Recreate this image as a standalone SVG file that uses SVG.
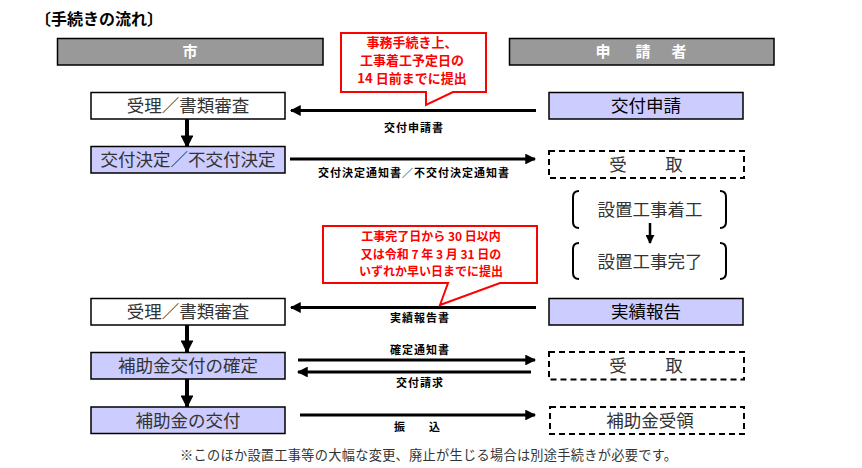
<svg xmlns="http://www.w3.org/2000/svg" width="862" height="468" viewBox="0 0 862 468">
<defs>
<marker id="ah" viewBox="0 0 10 10" refX="9" refY="5" markerWidth="3.6" markerHeight="3.6" orient="auto" markerUnits="strokeWidth">
<path d="M0,0 L10,5 L0,10 z" fill="#000"/>
</marker>
<marker id="ahv" viewBox="0 0 10 10" refX="9" refY="5" markerWidth="3.2" markerHeight="3.2" orient="auto" markerUnits="strokeWidth">
<path d="M0,0 L10,5 L0,10 z" fill="#000"/>
</marker>
</defs>
<style>
.t{font-family:"Noto Sans CJK JP","Liberation Sans",sans-serif}
.box{stroke:#000;stroke-width:1.5}
.w{fill:#fff}
.lav{fill:#ccccff}
.hdr{fill:#999999;stroke:#000;stroke-width:1.5}
.dash{fill:#fff;stroke:#000;stroke-width:2;stroke-dasharray:6 4}
.bt{font-size:17.5px;fill:#333;text-anchor:middle}
.bs{font-size:17.5px;fill:#000;text-anchor:middle}
.ht{font-size:15px;font-weight:bold;fill:#fff;text-anchor:middle}
.lab{font-size:11px;font-weight:bold;fill:#000;text-anchor:middle;letter-spacing:1px}
.call{fill:#fff;stroke:#ff0000;stroke-width:2}
.ct{font-size:13px;font-weight:bold;fill:#ff0000;text-anchor:middle}
.ct2{font-size:12px}
.cn{stroke:#000;stroke-width:3;fill:none}
.vn{stroke:#000;stroke-width:4;fill:none}
.br{stroke:#000;stroke-width:2;fill:none}
</style>
<rect width="862" height="468" fill="#fff"/>
<text class="t" x="35" y="25" font-size="16" font-weight="bold">〔手続きの流れ〕</text>

<g id="hdr-city"><rect class="hdr" x="57.5" y="38.5" width="265.5" height="26.5"/><text class="t ht" x="190" y="57">市</text></g>
<g id="hdr-app"><rect class="hdr" x="509.5" y="38.5" width="264.5" height="26.5"/><text class="t ht" x="603 643 679" y="57">申請者</text></g>

<g id="connectors">
<line class="cn" x1="536" y1="110.5" x2="291" y2="110.5" marker-end="url(#ah)"/>
<line class="cn" x1="290" y1="159" x2="535" y2="159" marker-end="url(#ah)"/>
<line class="cn" x1="536" y1="307.5" x2="291" y2="307.5" marker-end="url(#ah)"/>
<line class="cn" x1="298" y1="360" x2="535" y2="360" marker-end="url(#ah)"/>
<line class="cn" x1="531" y1="372" x2="298" y2="372" marker-end="url(#ah)"/>
<line class="cn" x1="300" y1="415" x2="535" y2="415" marker-end="url(#ah)"/>
<line class="vn" x1="187" y1="119" x2="187" y2="147" marker-end="url(#ahv)"/>
<line class="vn" x1="187" y1="325" x2="187" y2="352" marker-end="url(#ahv)"/>
<line class="vn" x1="187" y1="379" x2="187" y2="407" marker-end="url(#ahv)"/>
<line x1="650" y1="223" x2="650" y2="243" stroke="#000" stroke-width="2.5" marker-end="url(#ah)"/>
<text class="t lab" x="414" y="132">交付申請書</text>
<text class="t lab" x="414" y="177">交付決定通知書／不交付決定通知書</text>
<text class="t lab" x="420" y="322">実績報告書</text>
<text class="t lab" x="420" y="354">確定通知書</text>
<text class="t lab" x="420" y="387">交付請求</text>
<text class="t lab" x="400 435" y="431">振込</text>
</g>

<g id="callout1">
<path class="call" d="M341,33 H486 V92 H453 L426,105 L426,92 H341 Z"/>
<text class="t ct" x="412" y="47">事務手続き上、</text>
<text class="t ct" x="412" y="65">工事着工予定日の</text>
<text class="t ct" x="412" y="83">14 日前までに提出</text>
</g>

<g id="callout2">
<path class="call" d="M323,226 H537 V283 H500 L440,305 L448,283 H323 Z"/>
<text class="t ct ct2" x="431" y="241">工事完了日から 30 日以内</text>
<text class="t ct ct2" x="431" y="258.5">又は令和 7 年 3 月 31 日の</text>
<text class="t ct ct2" x="431" y="276">いずれか早い日までに提出</text>
</g>

<g id="n-juri1"><rect class="box w" x="91" y="92.5" width="194" height="26.5"/><text class="t bt" x="188" y="112">受理／書類審査</text></g>
<g id="n-shinsei"><rect class="box lav" x="549" y="92.5" width="194" height="26.5"/><text class="t bs" x="646" y="112">交付申請</text></g>
<g id="n-kettei"><rect class="box lav" x="91" y="146.5" width="194" height="26.5"/><text class="t bt" x="188" y="166" font-size="16">交付決定／不交付決定</text></g>
<g id="n-uketori1"><rect class="dash" x="549" y="151" width="195" height="27"/><text class="t bt" x="618 674" y="171">受取</text></g>
<g id="n-chakko">
<path class="br" d="M579,191 Q573,191 573,197 V222 Q573,228 579,228"/>
<path class="br" d="M720,191 Q726,191 726,197 V222 Q726,228 720,228"/>
<text class="t bt" x="650" y="216">設置工事着工</text>
</g>
<g id="n-kanryo">
<path class="br" d="M579,243 Q573,243 573,249 V273 Q573,279 579,279"/>
<path class="br" d="M720,243 Q726,243 726,249 V273 Q726,279 720,279"/>
<text class="t bt" x="650" y="268">設置工事完了</text>
</g>
<g id="n-juri2"><rect class="box w" x="91" y="298.5" width="194" height="26.5"/><text class="t bt" x="188" y="318">受理／書類審査</text></g>
<g id="n-jisseki"><rect class="box lav" x="549" y="298.5" width="194" height="26.5"/><text class="t bs" x="646" y="318">実績報告</text></g>
<g id="n-kakutei"><rect class="box lav" x="91" y="352.5" width="194" height="26.5"/><text class="t bt" x="188" y="372">補助金交付の確定</text></g>
<g id="n-uketori2"><rect class="dash" x="549" y="352" width="195" height="27.5"/><text class="t bt" x="618 674" y="372">受取</text></g>
<g id="n-kofu"><rect class="box lav" x="91" y="407" width="194" height="26.5"/><text class="t bt" x="188" y="427">補助金の交付</text></g>
<g id="n-juryo"><rect class="dash" x="550" y="407" width="194" height="27"/><text class="t bt" x="650" y="427">補助金受領</text></g>

<text class="t" x="180" y="460" font-size="13.2" fill="#333" textLength="497" lengthAdjust="spacing">※このほか設置工事等の大幅な変更、廃止が生じる場合は別途手続きが必要です。</text>
</svg>
